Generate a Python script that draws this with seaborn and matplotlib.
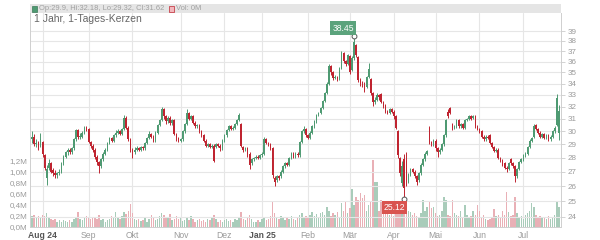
import numpy as np
import pandas as pd
import matplotlib
matplotlib.use("Agg")
import matplotlib.pyplot as plt
from matplotlib.patches import Rectangle
import seaborn as sns

opens = [
29.4,29.6,29.0,29.2,28.9,29.2,28.2,26.6,27.3,27.6,
27.1,26.9,26.8,26.9,27.0,27.6,28.1,28.4,28.6,28.4,
28.7,29.4,30.1,29.6,29.6,29.9,30.3,30.2,29.2,28.9,
28.6,28.1,27.7,27.4,27.9,28.3,28.6,29.1,29.5,29.3,
29.7,29.9,30.0,29.8,30.2,31.1,30.3,29.4,28.6,28.4,
28.6,28.7,28.6,28.8,28.7,29.1,29.5,29.8,29.6,29.3,
29.9,30.5,30.9,31.8,31.2,30.8,31.1,30.7,30.9,29.8,
29.5,29.3,29.4,30.0,30.6,31.5,31.0,31.2,30.7,30.4,
30.5,30.0,29.7,29.3,28.9,29.0,28.8,28.9,28.8,29.0,
28.9,28.7,29.3,29.7,30.1,30.4,30.2,30.3,30.6,30.9,
30.6,28.8,28.6,28.7,28.3,27.6,27.9,28.0,28.1,28.0,
28.2,28.3,29.4,29.1,29.0,28.7,26.6,26.4,26.7,26.7,
27.0,27.4,27.6,27.5,28.0,28.3,28.1,28.3,28.2,29.2,
30.0,30.2,29.7,29.5,29.9,30.4,30.8,31.3,31.5,31.9,
32.5,33.2,34.0,35.6,35.0,34.5,34.6,34.4,35.4,36.8,
36.1,35.8,36.5,35.2,36.3,37.6,36.4,34.3,34.0,33.9,
33.7,34.6,34.4,33.2,32.4,32.6,33.0,33.1,32.4,32.1,
31.6,31.5,31.8,31.6,31.2,30.0,28.0,26.2,27.9,27.8,
26.3,26.8,27.2,27.0,26.7,26.4,26.9,27.5,27.9,28.3,
30.3,29.2,29.0,29.3,28.7,28.4,28.6,29.0,29.7,31.6,
31.9,30.6,30.3,30.4,30.9,30.4,30.6,30.3,30.9,31.0,
31.2,31.1,31.2,30.4,30.2,30.0,29.6,29.4,29.6,29.7,
29.1,28.8,28.5,28.6,28.0,27.8,27.6,27.3,27.2,27.9,
27.6,27.4,26.7,27.2,27.7,27.9,28.2,28.3,28.8,29.3,
29.6,30.5,30.2,29.9,29.6,29.8,29.5,29.7,29.4,29.6,
30.0,30.5,29.9]

closes = [
29.6,29.0,29.1,28.8,29.4,28.3,27.3,27.2,27.6,27.0,
26.9,26.8,26.9,27.0,27.6,28.1,28.4,28.6,28.4,28.7,
29.4,30.1,29.6,29.6,29.9,30.3,30.1,29.2,28.9,28.6,
28.1,27.7,27.4,27.9,28.3,28.6,29.1,29.5,29.3,29.7,
29.9,30.0,29.8,30.2,31.1,30.3,29.4,28.6,28.4,28.6,
28.7,28.6,28.8,28.7,29.1,29.5,29.8,29.6,29.3,29.9,
30.5,30.9,31.8,31.2,30.8,31.1,30.7,30.9,29.8,29.5,
29.3,29.4,30.0,30.6,31.5,31.0,31.2,30.7,30.4,30.5,
30.0,29.7,29.3,28.9,29.0,28.8,28.9,27.8,29.0,28.9,
28.7,29.3,29.7,30.1,30.4,30.2,30.3,30.6,30.9,31.3,
28.9,28.6,28.7,28.3,27.5,27.9,28.0,28.1,28.0,28.2,
28.3,29.4,29.1,29.0,28.7,26.8,26.3,26.7,26.6,27.0,
27.4,27.6,27.5,28.0,28.3,28.1,28.3,28.2,29.2,30.0,
30.2,29.7,29.5,29.9,30.4,30.8,31.3,31.5,31.9,32.5,
33.2,34.0,35.6,35.0,34.5,34.6,34.4,35.4,36.8,36.1,
35.8,36.6,35.0,36.3,37.9,36.6,34.3,34.0,33.9,33.7,
34.6,35.3,33.2,32.4,32.6,33.0,32.8,32.4,32.1,31.6,
31.5,31.8,31.6,31.2,30.3,28.2,26.9,27.4,25.9,26.4,
26.8,27.2,27.0,26.7,26.3,26.9,27.5,27.9,28.3,28.5,
29.2,29.0,29.3,28.7,28.4,28.6,29.0,29.7,30.9,31.2,
31.5,30.3,30.4,30.9,30.4,30.6,30.3,30.9,31.0,31.2,
31.0,31.2,30.4,30.2,30.0,29.6,29.4,29.6,29.5,29.1,
28.8,28.5,28.6,28.0,27.8,27.5,27.3,27.2,27.6,27.6,
27.4,26.7,27.2,27.7,27.9,28.2,28.3,28.8,29.3,29.5,
30.4,30.2,29.9,29.6,29.8,29.5,29.7,29.4,29.6,30.0,
30.3,32.7,31.62]

highs = [
30.0,29.8,29.4,29.3,29.9,29.3,28.3,27.5,27.9,27.7,
27.3,27.1,27.0,27.2,27.7,28.2,28.5,28.7,28.7,28.8,
29.5,30.2,30.2,29.9,30.0,30.4,30.4,30.3,29.3,29.0,
28.7,28.2,27.8,28.0,28.4,28.7,29.2,29.6,29.6,29.8,
30.1,30.2,30.1,30.3,31.3,31.2,30.4,29.5,28.7,28.8,
28.9,28.8,28.9,28.9,29.2,29.6,30.0,29.9,29.7,30.0,
30.6,31.0,32.0,31.9,31.3,31.2,31.2,31.0,31.0,29.9,
29.6,29.5,30.1,30.7,31.8,31.6,31.3,31.3,30.8,30.6,
30.6,30.1,29.8,29.4,29.1,29.1,29.0,29.0,29.1,29.1,
29.0,29.4,29.8,30.2,30.5,30.5,30.4,30.7,31.0,31.5,
30.7,28.9,28.8,28.8,28.4,28.0,28.1,28.2,28.2,28.3,
28.4,29.6,29.5,29.2,29.1,28.8,26.7,26.8,26.8,27.1,
27.5,27.7,27.7,28.1,28.4,28.4,28.4,28.4,29.3,30.1,
30.4,30.3,29.8,30.0,30.5,30.9,31.4,31.6,32.0,32.6,
33.3,34.1,35.8,35.7,35.1,34.8,34.7,35.5,37.0,36.9,
36.2,36.7,36.6,36.5,38.45,37.7,36.5,34.5,34.2,34.1,
34.7,35.9,34.5,33.3,32.8,33.2,33.1,33.2,32.5,32.2,
31.7,31.9,31.9,31.7,31.3,30.1,28.1,27.8,28.3,28.4,
26.9,27.3,27.3,27.1,26.8,27.0,27.6,28.0,28.4,28.6,
30.4,29.3,29.4,29.4,28.8,28.7,29.1,29.8,31.0,31.8,
32.0,30.7,30.5,31.0,31.0,30.7,30.7,31.0,31.1,31.3,
31.3,31.3,31.3,30.5,30.3,30.1,29.7,29.7,29.7,29.8,
29.2,28.9,28.7,28.7,28.1,27.9,27.7,27.4,27.7,28.0,
27.7,27.5,27.3,27.8,28.0,28.3,28.4,28.9,29.4,29.6,
30.6,30.6,30.3,30.0,29.9,29.9,29.8,29.8,29.7,30.1,
30.4,33.1,32.18]

lows = [
29.1,28.9,28.8,28.6,28.8,28.1,27.1,26.1,27.1,26.9,
26.7,26.6,26.6,26.8,26.9,27.5,28.0,28.2,28.3,28.3,
28.6,29.3,29.4,29.4,29.5,29.8,30.0,29.1,28.7,28.4,
27.9,27.5,26.9,27.3,27.8,28.2,28.5,29.0,29.2,29.2,
29.6,29.8,29.7,29.7,30.1,30.2,29.3,28.4,28.0,28.3,
28.5,28.5,28.5,28.6,28.6,29.0,29.4,29.5,29.2,29.2,
29.8,30.4,30.8,31.0,30.6,30.7,30.5,30.5,29.7,29.3,
29.2,29.2,29.3,29.9,30.5,30.9,30.9,30.6,30.3,30.3,
29.9,29.6,29.2,28.8,28.8,28.7,28.7,27.7,28.7,28.8,
28.5,28.6,29.2,29.6,30.0,30.1,30.1,30.2,30.5,30.8,
28.8,28.4,28.5,28.1,27.2,27.5,27.8,27.9,27.9,27.9,
28.1,28.2,29.0,28.9,28.6,26.6,26.0,26.3,26.4,26.6,
26.9,27.3,27.4,27.4,27.9,28.0,28.0,28.1,28.1,29.1,
29.9,29.6,29.4,29.4,29.8,30.3,30.7,31.2,31.4,31.8,
32.4,33.1,33.9,34.8,34.3,34.4,34.2,34.3,35.3,35.9,
35.6,35.7,34.9,35.1,36.2,36.4,34.1,33.8,33.7,33.3,
33.6,34.5,33.0,32.1,32.2,32.5,32.6,32.3,31.9,31.5,
31.4,31.4,31.5,31.0,30.2,28.0,26.7,26.0,25.12,26.0,
26.2,26.7,26.9,26.6,26.1,26.3,26.8,27.4,27.8,28.2,
29.0,28.9,28.9,28.5,28.1,28.3,28.5,28.9,29.6,31.1,
31.4,30.1,30.2,30.3,30.3,30.3,30.2,30.2,30.8,30.9,
30.9,31.0,30.3,30.1,29.9,29.5,29.3,29.3,29.4,29.0,
28.7,28.4,28.4,27.9,27.7,27.4,27.2,27.0,27.1,27.5,
27.3,26.3,26.6,27.1,27.6,27.8,28.1,28.2,28.7,29.2,
29.5,30.1,29.8,29.5,29.5,29.4,29.4,29.3,29.3,29.5,
29.9,30.4,29.32]

volumes_m = [
0.20,0.22,0.18,0.20,0.17,0.22,0.20,0.25,0.18,0.15,
0.12,0.14,0.10,0.12,0.10,0.13,0.11,0.09,0.12,0.10,
0.14,0.18,0.28,0.15,0.12,0.16,0.20,0.18,0.14,0.16,
0.19,0.14,0.22,0.13,0.15,0.10,0.12,0.14,0.20,0.16,
0.28,0.17,0.15,0.20,0.28,0.24,0.30,0.42,0.26,0.14,
0.12,0.15,0.11,0.13,0.16,0.10,0.14,0.22,0.18,0.12,
0.15,0.20,0.26,0.22,0.16,0.18,0.24,0.12,0.15,0.20,
0.14,0.18,0.11,0.13,0.17,0.12,0.20,0.14,0.10,0.12,
0.15,0.11,0.13,0.10,0.14,0.12,0.16,0.22,0.14,0.10,
0.12,0.10,0.13,0.15,0.11,0.12,0.10,0.14,0.12,0.16,
0.28,0.15,0.12,0.18,0.22,0.14,0.10,0.09,0.12,0.10,
0.14,0.18,0.12,0.15,0.20,0.46,0.25,0.18,0.15,0.20,
0.16,0.12,0.18,0.14,0.20,0.15,0.13,0.18,0.22,0.25,
0.18,0.20,0.16,0.22,0.28,0.20,0.24,0.18,0.26,0.28,
0.22,0.37,0.30,0.20,0.25,0.22,0.28,0.18,0.43,0.30,
0.46,0.26,0.35,0.70,0.40,0.55,0.50,0.62,0.52,0.58,
0.30,0.40,0.45,1.22,0.82,0.82,0.30,0.49,0.35,0.28,
0.25,0.22,0.30,0.20,0.26,0.28,0.40,0.45,0.42,0.37,
0.30,0.28,0.22,0.25,0.20,0.18,0.26,0.49,0.30,0.37,
0.46,0.34,0.37,0.25,0.20,0.22,0.30,0.55,0.49,0.22,
0.20,0.49,0.25,0.22,0.20,0.30,0.18,0.40,0.22,0.17,
0.20,0.30,0.22,0.40,0.30,0.18,0.22,0.15,0.12,0.15,
0.18,0.33,0.20,0.22,0.18,0.30,0.22,0.64,0.27,0.20,
0.22,0.55,0.25,0.18,0.20,0.15,0.22,0.25,0.30,0.43,
0.37,0.22,0.18,0.20,0.16,0.19,0.14,0.20,0.15,0.18,
0.22,0.46,0.37]

holidays = ["2024-12-24", "2024-12-25", "2024-12-26", "2024-12-31",
            "2025-01-01", "2025-04-18", "2025-04-21", "2025-05-01"]
month_labels = ["Aug 24", "Sep", "Okt", "Nov", "Dez", "Jan 25",
                "Feb", "Mär", "Apr", "Mai", "Jun", "Jul"]
bold_labels = ["Aug 24", "Jan 25"]
price_ticks = list(range(24, 40))
vol_ticks = [0.0, 0.2, 0.4, 0.6, 0.8, 1.0, 1.2]
vol_tick_labels = ["0,0M", "0,2M", "0,4M", "0,6M", "0,8M", "1,0M", "1,2M"]
header_text = "Op:29.9, Hi:32.18, Lo:29.32, Cl:31.62"
title_text = "1 Jahr, 1-Tages-Kerzen"
hi_label, lo_label = "38.45", "25.12"

dates = pd.bdate_range("2024-07-25", "2025-07-24", freq="C", holidays=holidays)
n = len(opens)
dates = dates[:n]
df = pd.DataFrame({"date": dates, "open": opens, "high": highs, "low": lows,
                   "close": closes, "vol": volumes_m})
df["idx"] = np.arange(n)
df["dir"] = np.where(df["close"] >= df["open"], "up", "down")

GREEN = "#4e9a72"
RED = "#bf2430"
VGREEN = "#a3d2ba"
VRED = "#f2a6ae"
GRID = "#e6e6e6"
TXT = "#9a9a9a"

sns.set_theme(style="white")
plt.rcParams["font.family"] = ["Liberation Sans", "DejaVu Sans"]

fig = plt.figure(figsize=(6, 2.4), dpi=100)
W, H = 600, 240
L, R, T, B = 30, 561, 13, 227
ax_vol = fig.add_axes([L / W, (H - B) / H, (R - L) / W, (B - T) / H])
ax = ax_vol.twinx()

# volume bars
sns.barplot(data=df, x="idx", y="vol", hue="dir", palette={"up": VGREEN, "down": VRED},
            dodge=False, width=0.7, linewidth=0, legend=False, ax=ax_vol,
            native_scale=True, errorbar=None)

# month positions (first trading day of each month after the start month)
month_starts = df.groupby([df["date"].dt.year, df["date"].dt.month])["idx"].min().values
month_starts = [m for m in month_starts if m > 0][:len(month_labels)]
for m in month_starts:
    ax_vol.axvline(m, color=GRID, lw=0.8, zorder=0)

ax_vol.set_xlim(-1, n)
ax_vol.set_ylim(0, (B - T) / 55.0)
ax_vol.set_yticks(vol_ticks)
ax_vol.set_yticklabels(vol_tick_labels)
ax_vol.set_xticks(month_starts)
ax_vol.set_xticklabels(month_labels)
for lbl in ax_vol.get_xticklabels():
    if lbl.get_text() in bold_labels:
        lbl.set_fontweight("bold")
        lbl.set_color("#555555")
    else:
        lbl.set_color(TXT)
ax_vol.tick_params(axis="x", length=0, pad=3, labelsize=6.2)
ax_vol.tick_params(axis="y", length=0, pad=2, labelsize=5.8, labelcolor=TXT)
ax_vol.set_xlabel("")
ax_vol.set_ylabel("")

# candles
ax.set_yscale("log")
ymin = 39 * np.exp(-(B - 31) / 383.0)
ymax = 39 * np.exp((31 - T) / 383.0)
ax.set_ylim(ymin, ymax)
for p in price_ticks:
    ax.axhline(p, color=GRID, lw=0.8, zorder=0)
col = np.where(df["dir"] == "up", GREEN, RED)
ax.vlines(df["idx"], df["low"], df["high"], colors=col, lw=0.7, zorder=2)
body_lo = np.minimum(df["open"], df["close"])
body_h = np.maximum(np.abs(df["close"] - df["open"]), 0.04)
ax.bar(df["idx"], body_h, bottom=body_lo, width=0.75, color=col, linewidth=0, zorder=3)
ax.set_xlim(-1, n)
ax.yaxis.set_major_locator(matplotlib.ticker.FixedLocator(price_ticks))
ax.yaxis.set_minor_locator(matplotlib.ticker.NullLocator())
ax.set_yticklabels([str(p) for p in price_ticks])
ax.tick_params(axis="y", which="major", length=3, width=0.6, color="#cccccc",
               pad=2, labelsize=5.8, labelcolor=TXT, right=True)

for a in (ax, ax_vol):
    a.spines["top"].set_visible(False)
    for s in ("left", "right", "bottom"):
        a.spines[s].set_color("#d0d0d0")
        a.spines[s].set_linewidth(0.7)

# high / low markers
hi_i = int(np.argmax(df["high"]))
lo_i = int(np.argmin(df["low"]))
ax.plot([hi_i], [df["high"][hi_i]], "o", ms=3.5, mfc="white", mec="#555555", mew=0.7, zorder=5)
ax.plot([lo_i], [df["low"][lo_i]], "o", ms=3.5, mfc="white", mec="#555555", mew=0.7, zorder=5)
ax.annotate(hi_label, (hi_i, df["high"][hi_i]), xytext=(-8, 6), textcoords="offset points",
            ha="center", va="center", fontsize=6.2, color="white", zorder=6,
            bbox=dict(boxstyle="square,pad=0.25", fc="#5ba37c", ec="none"))
ax.annotate(lo_label, (lo_i, df["low"][lo_i]), xytext=(-7, -6), textcoords="offset points",
            ha="center", va="center", fontsize=6.2, color="white", zorder=6,
            bbox=dict(boxstyle="square,pad=0.25", fc="#d9534f", ec="none"))

# header band and legend
fig.patches.append(Rectangle((L / W, (H - 13) / H), (R - L) / W, 9 / H,
                             transform=fig.transFigure, fc="#e5e5e5", ec="none"))
fig.patches.append(Rectangle((32 / W, (H - 11.5) / H), 5 / W, 5 / H,
                             transform=fig.transFigure, fc=GREEN, ec="#3d7a59", lw=0.5))
fig.text(39 / W, (H - 8.5) / H, header_text, fontsize=5.4, color="#a0a0a0", va="center", ha="left")
fig.patches.append(Rectangle((169 / W, (H - 11.5) / H), 5 / W, 5 / H,
                             transform=fig.transFigure, fc="#f2b8bd", ec=RED, lw=0.5))
fig.text(176 / W, (H - 8.5) / H, "Vol: 0M", fontsize=5.4, color="#a0a0a0", va="center", ha="left")
fig.text(34 / W, (H - 19.5) / H, title_text, fontsize=7.5, color="#666666", va="center", ha="left")

fig.savefig("out.png", dpi=100)
